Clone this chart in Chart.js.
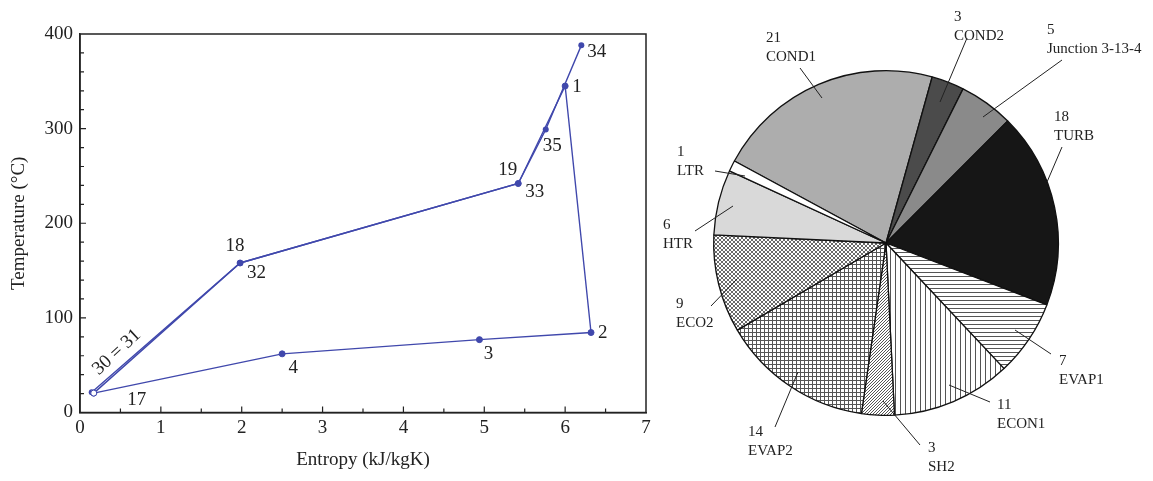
<!DOCTYPE html>
<html>
<head>
<meta charset="utf-8">
<title>T-s diagram and exergy destruction</title>
<script src="https://cdn.jsdelivr.net/npm/chart.js@4.4.0/dist/chart.umd.min.js"></script>
<style>
  html, body { margin: 0; padding: 0; background: #fff; }
  .row { display: flex; width: 1153px; height: 481px; }
  .panel-left { position: relative; width: 660px; height: 481px; }
  .panel-right { position: relative; width: 493px; height: 481px; }
</style>
</head>
<body>
<div class="row">
  <div class="panel-left"><canvas id="tsChart"></canvas></div>
  <div class="panel-right"><canvas id="exergyPie"></canvas></div>
</div>
<script>
// Working fluid cycle: 17 -> 18 -> 19 -> 1 -> 2 -> 3 -> 4 -> 17
const cycleStates = ['17', '18', '19', '1', '2', '3', '4', '17'];
const cycleEntropy = [0.17, 1.98, 5.42, 6.00, 6.32, 4.94, 2.50, 0.17];
const cycleTemp = [20.5, 158, 242, 345, 84.5, 77, 62, 20.5];

// Heat source stream: 34 -> 35 -> 33 -> 32 -> 31
const gasStates = ['34', '35', '33', '32', '30 = 31'];
const gasEntropy = [6.20, 5.76, 5.42, 1.98, 0.145];
const gasTemp = [388, 299, 242, 158, 21.5];

const entropyTicks = [0, 1, 2, 3, 4, 5, 6, 7];
const tempTicks = [0, 100, 200, 300, 400];

// Exergy destruction share per component (%)
const components = ['COND1', 'COND2', 'Junction 3-13-4', 'TURB', 'EVAP1', 'ECON1', 'SH2', 'EVAP2', 'ECO2', 'HTR', 'LTR'];
const shares = [21, 3, 5, 18, 7, 11, 3, 14, 9, 6, 1];

const ink = '#222';
const lineBlue = '#4048ac';
const serif = '"Liberation Serif", "DejaVu Serif", serif';

// where each state number sits relative to its point
const labelPlacement = {
    '34': { dx: 6, dy: 7, align: 'left' },
    '1': { dx: 7, dy: 1, align: 'left' },
    '35': { dx: -3, dy: 16, align: 'left' },
    '19': { dx: -1, dy: -13, align: 'right' },
    '33': { dx: 7, dy: 9, align: 'left' },
    '18': { dx: -5, dy: -17, align: 'center' },
    '32': { dx: 7, dy: 10, align: 'left' },
    '2': { dx: 7, dy: 0, align: 'left' },
    '3': { dx: 9, dy: 14, align: 'center' },
    '4': { dx: 11, dy: 14, align: 'center' },
    '17': { dx: 43, dy: 7, align: 'center' },
    '30 = 31': { dx: 25, dy: -40, align: 'center', angle: -42.7 }
};

// callout text anchor and leader line, offsets from the pie centre
const calloutLayout = [
    { at: [-120, -205], line: [-86, -175, -64, -145] },
    { at: [68, -226], line: [81, -205, 54, -141] },
    { at: [161, -213], line: [176, -183, 97, -126] },
    { at: [168, -126], line: [176, -96, 161, -61] },
    { at: [173, 118], line: [165, 111, 129, 87] },
    { at: [111, 162], line: [104, 159, 63, 142] },
    { at: [42, 205], line: [34, 202, -3, 158] },
    { at: [-138, 189], line: [-111, 184, -88, 129] },
    { at: [-210, 61], line: [-175, 63, -149, 36] },
    { at: [-223, -18], line: [-191, -12, -153, -37] },
    { at: [-209, -91], line: [-171, -72, -141, -67] }
];

function hatch(size, draw, color) {
    const c = document.createElement('canvas');
    c.width = c.height = size;
    const g = c.getContext('2d');
    g.fillStyle = '#fff';
    g.fillRect(0, 0, size, size);
    g.strokeStyle = color || '#555';
    g.lineWidth = 1;
    g.beginPath();
    draw(g, size);
    g.stroke();
    return g.createPattern(c, 'repeat');
}

const horizontal = hatch(4, (g, s) => { g.moveTo(0, 0.5); g.lineTo(s, 0.5); });
const vertical = hatch(5, (g, s) => { g.moveTo(0.5, 0); g.lineTo(0.5, s); });
const forward = hatch(3, (g, s) => {
    [-s, 0, s].forEach(o => { g.moveTo(o, s); g.lineTo(o + s, 0); });
});
const squares = hatch(4, (g, s) => {
    g.moveTo(0, 0.5); g.lineTo(s, 0.5);
    g.moveTo(0.5, 0); g.lineTo(0.5, s);
});
const diamonds = hatch(4, (g, s) => {
    [-s, 0, s].forEach(o => {
        g.moveTo(o, s); g.lineTo(o + s, 0);
        g.moveTo(o, 0); g.lineTo(o + s, s);
    });
}, '#6a6a6a');

const sliceFills = ['#adadad', '#4b4b4b', '#8a8a8a', '#161616', horizontal, vertical, forward, squares, diamonds, '#d9d9d9', '#ffffff'];

// T-s chart

const frameTicks = {
    id: 'frameTicks',
    afterDraw(chart) {
        const { ctx, chartArea: a, scales: { x, y } } = chart;
        ctx.save();
        ctx.strokeStyle = ink;
        ctx.lineWidth = 1.5;
        ctx.strokeRect(a.left, a.top, a.right - a.left, a.bottom - a.top);
        ctx.lineWidth = 1.2;
        ctx.beginPath();
        for (let v = 0.5; v < 7; v += 0.5) {
            const px = x.getPixelForValue(v);
            const len = v % 1 === 0 ? 6 : 4;
            ctx.moveTo(px, a.bottom);
            ctx.lineTo(px, a.bottom - len);
        }
        for (let v = 20; v < 400; v += 20) {
            const py = y.getPixelForValue(v);
            const len = v % 100 === 0 ? 6 : 4;
            ctx.moveTo(a.left, py);
            ctx.lineTo(a.left + len, py);
        }
        ctx.stroke();
        ctx.restore();
    }
};

const stateLabels = {
    id: 'stateLabels',
    afterDatasetsDraw(chart) {
        const { ctx } = chart;
        const done = new Set();
        ctx.save();
        ctx.font = '19px ' + serif;
        ctx.fillStyle = ink;
        ctx.textBaseline = 'middle';
        chart.data.datasets.forEach((ds, di) => {
            chart.getDatasetMeta(di).data.forEach((pt, i) => {
                const name = ds.stateNames[i];
                const place = labelPlacement[name];
                if (!place || done.has(name)) return;
                done.add(name);
                ctx.save();
                ctx.translate(pt.x + place.dx, pt.y + place.dy);
                if (place.angle) ctx.rotate(place.angle * Math.PI / 180);
                ctx.textAlign = place.align;
                ctx.fillText(name, 0, 0);
                ctx.restore();
            });
        });
        ctx.restore();
    }
};

new Chart(document.getElementById('tsChart'), {
    type: 'scatter',
    data: {
        datasets: [
            {
                stateNames: cycleStates,
                data: cycleEntropy.map((s, i) => ({ x: s, y: cycleTemp[i] })),
                showLine: true,
                borderColor: lineBlue,
                borderWidth: 1.4,
                pointRadius: 3,
                pointBorderWidth: 1,
                pointBorderColor: lineBlue,
                pointBackgroundColor: cycleStates.map(n => n === '17' ? '#fff' : lineBlue)
            },
            {
                stateNames: gasStates,
                data: gasEntropy.map((s, i) => ({ x: s, y: gasTemp[i] })),
                showLine: true,
                borderColor: lineBlue,
                borderWidth: 1.4,
                pointRadius: 3,
                pointBorderWidth: 0,
                pointBackgroundColor: lineBlue
            }
        ]
    },
    options: {
        responsive: true,
        maintainAspectRatio: false,
        animation: false,
        layout: { padding: { top: 34, right: 14 } },
        plugins: { legend: { display: false }, tooltip: { enabled: false } },
        scales: {
            x: {
                type: 'linear',
                min: 0,
                max: 7,
                afterFit: s => { s.height = 68.5; },
                afterBuildTicks: s => { s.ticks = entropyTicks.map(v => ({ value: v })); },
                grid: { display: false, drawTicks: false },
                border: { display: true, color: ink, width: 1.5 },
                ticks: { color: ink, padding: 4, font: { family: serif, size: 19 } },
                title: {
                    display: true,
                    text: 'Entropy (kJ/kgK)',
                    color: ink,
                    padding: { top: 0, bottom: 10 },
                    font: { family: serif, size: 19 }
                }
            },
            y: {
                type: 'linear',
                min: 0,
                max: 400,
                afterFit: s => { s.width = 80; },
                afterBuildTicks: s => { s.ticks = tempTicks.map(v => ({ value: v })); },
                grid: { display: false, drawTicks: false },
                border: { display: true, color: ink, width: 1.5 },
                ticks: { color: ink, padding: 7, font: { family: serif, size: 19 } },
                title: {
                    display: true,
                    text: 'Temperature (°C)',
                    color: ink,
                    padding: { top: 8, bottom: 0 },
                    font: { family: serif, size: 19 }
                }
            }
        }
    },
    plugins: [frameTicks, stateLabels]
});

// Exergy destruction pie

const callouts = {
    id: 'callouts',
    afterDatasetsDraw(chart) {
        const { ctx } = chart;
        const arc = chart.getDatasetMeta(0).data[0];
        const cx = arc.x, cy = arc.y;
        ctx.save();
        ctx.strokeStyle = ink;
        ctx.lineWidth = 1;
        ctx.fillStyle = ink;
        ctx.font = '15px ' + serif;
        ctx.textBaseline = 'middle';
        ctx.textAlign = 'left';
        components.forEach((name, i) => {
            const c = calloutLayout[i];
            ctx.beginPath();
            ctx.moveTo(cx + c.line[0], cy + c.line[1]);
            ctx.lineTo(cx + c.line[2], cy + c.line[3]);
            ctx.stroke();
            ctx.fillText(String(shares[i]), cx + c.at[0], cy + c.at[1]);
            ctx.fillText(name, cx + c.at[0], cy + c.at[1] + 19);
        });
        ctx.restore();
    }
};

new Chart(document.getElementById('exergyPie'), {
    type: 'pie',
    data: {
        labels: components,
        datasets: [{
            data: shares,
            backgroundColor: sliceFills,
            borderColor: '#111',
            borderWidth: 1.3
        }]
    },
    options: {
        responsive: true,
        maintainAspectRatio: false,
        animation: false,
        rotation: -61.6,
        layout: { padding: { left: 53, right: 94, top: 70, bottom: 65 } },
        plugins: { legend: { display: false }, tooltip: { enabled: false } }
    },
    plugins: [callouts]
});
</script>
</body>
</html>
